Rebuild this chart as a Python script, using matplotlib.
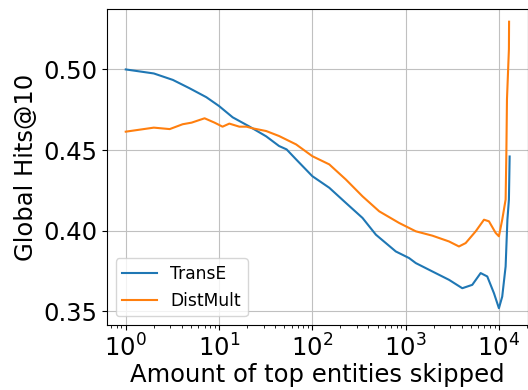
import matplotlib
matplotlib.use('Agg')
import matplotlib.pyplot as plt

# (x = number of top entities skipped)
transe_x = [1, 2, 3.2, 4.8, 7.3, 10, 14, 21, 32, 44, 53, 67, 100, 152, 229, 345, 480,
            785, 1090, 1285, 1935, 2920, 4050, 5180, 6370, 7500, 8850, 10000, 10850,
            11800, 12330, 12800, 13030]
transe_y = [0.500, 0.4975, 0.4935, 0.4884, 0.4828, 0.4773, 0.4703, 0.4647, 0.4585,
            0.4525, 0.4504, 0.4442, 0.4338, 0.4266, 0.4172, 0.4079, 0.3975, 0.3871,
            0.3830, 0.3799, 0.3747, 0.3695, 0.3643, 0.3664, 0.3737, 0.3716, 0.3612,
            0.3519, 0.3591, 0.3778, 0.4068, 0.4193, 0.4460]

distmult_x = [1, 2, 2.96, 4.07, 5.08, 7.0, 8.95, 10.9, 12.9, 16.5, 19.7, 22.8, 32, 44,
              67, 100, 152, 229, 345, 521, 851, 1285, 1935, 2920, 3730, 4400, 5640,
              6920, 7820, 9230, 10000, 10850, 11800, 12020, 12200, 12800, 12850]
distmult_y = [0.4614, 0.4639, 0.4630, 0.4660, 0.4670, 0.4697, 0.4670, 0.4645, 0.4664,
              0.4645, 0.4645, 0.4635, 0.4618, 0.4587, 0.4535, 0.4462, 0.4411, 0.4317,
              0.4213, 0.4120, 0.4048, 0.3996, 0.3969, 0.3933, 0.3902, 0.3923, 0.3996,
              0.4068, 0.4058, 0.3986, 0.3965, 0.4068, 0.4193, 0.4485, 0.4815, 0.5126,
              0.5296]

fig = plt.figure(figsize=(5.28, 3.9), dpi=100)
ax = fig.add_axes([0.2027, 0.1667, 0.7973, 0.8103])

ax.plot(transe_x, transe_y, color='#1f77b4', lw=1.5, label='TransE')
ax.plot(distmult_x, distmult_y, color='#ff7f0e', lw=1.5, label='DistMult')
ax.set_xscale('log')
ax.set_xlim(0.63, 20500)
ax.set_ylim(0.3415, 0.5375)
ax.set_yticks([0.35, 0.40, 0.45, 0.50])
ax.grid(True, color='#c0c0c0', lw=0.8)

ax.tick_params(axis='both', which='major', labelsize=17.5)
ax.set_xlabel('Amount of top entities skipped', fontsize=17.5, labelpad=1)
ax.set_ylabel('Global Hits@10', fontsize=17.5, labelpad=4)
ax.legend(loc='lower left', fontsize=12.3)

fig.savefig('out.png', dpi=100)
